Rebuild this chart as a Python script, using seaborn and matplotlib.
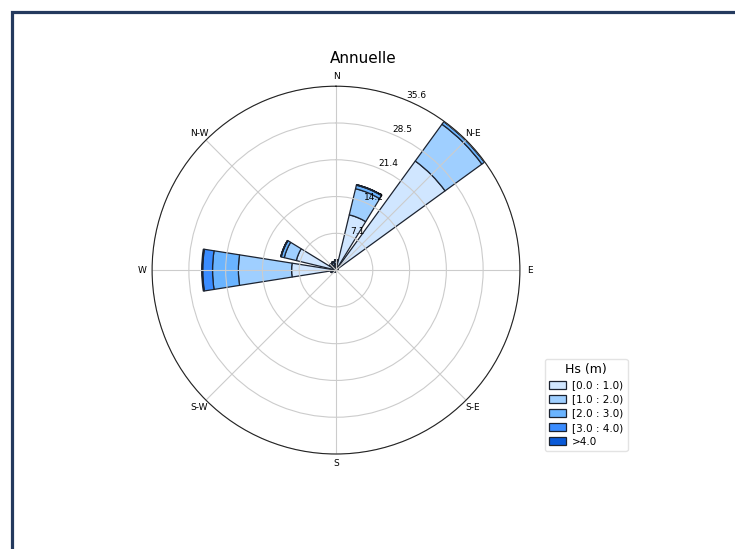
import matplotlib
matplotlib.use('Agg')
import matplotlib.pyplot as plt
import matplotlib.patches as mpatches
import numpy as np
import seaborn as sns

sns.set_theme(style='white')
plt.rcParams['font.family'] = ['DejaVu Sans']
plt.rcParams['text.color'] = 'black'
plt.rcParams['xtick.color'] = 'black'
plt.rcParams['ytick.color'] = 'black'

# 16 sectors, clockwise from N (degrees)
directions = ['N', 'NNE', 'NE', 'ENE', 'E', 'ESE', 'SE', 'SSE',
              'S', 'SSW', 'SW', 'WSW', 'W', 'WNW', 'NW', 'NNW']
angles_deg = [0, 22.5, 45, 67.5, 90, 112.5, 135, 157.5,
              180, 202.5, 225, 247.5, 270, 292.5, 315, 337.5]

hs_labels = ['[0.0 : 1.0)', '[1.0 : 2.0)', '[2.0 : 3.0)', '[3.0 : 4.0)', '>4.0']
hs_colors = ['#d0e6ff', '#9fcfff', '#6ab4ff', '#3a8cff', '#0a5ad8']

# frequency (%) per sector, one list per Hs class
hs_0_1 = [1.2, 11.0, 26.1, 0.3, 0.1, 0.0, 0.0, 0.0, 0.1, 0.3, 0.3, 0.6, 8.6, 7.9, 0.8, 1.0]
hs_1_2 = [0.6, 5.2, 8.8, 0.1, 0.0, 0.0, 0.0, 0.0, 0.0, 0.1, 0.2, 0.3, 10.3, 2.4, 0.5, 0.5]
hs_2_3 = [0.2, 0.7, 0.6, 0.0, 0.0, 0.0, 0.0, 0.0, 0.0, 0.0, 0.1, 0.1, 5.0, 0.6, 0.2, 0.2]
hs_3_4 = [0.0, 0.1, 0.1, 0.0, 0.0, 0.0, 0.0, 0.0, 0.0, 0.0, 0.0, 0.0, 1.9, 0.1, 0.05, 0.0]
hs_4_up = [0.0, 0.0, 0.0, 0.0, 0.0, 0.0, 0.0, 0.0, 0.0, 0.0, 0.0, 0.0, 0.2, 0.0, 0.0, 0.0]

series = [hs_0_1, hs_1_2, hs_2_3, hs_3_4, hs_4_up]
palette = sns.color_palette(hs_colors)

fig = plt.figure(figsize=(7.35, 5.49), dpi=100)
ax = fig.add_axes([0.2068, 0.173, 0.5007, 0.670], projection='polar')
ax.set_theta_zero_location('N')
ax.set_theta_direction(-1)
ax.set_axisbelow(False)

theta = np.deg2rad(angles_deg)
width = 0.8 * 2 * np.pi / len(directions)
bottom = np.zeros(len(directions))
for vals, col, lab in zip(series, palette, hs_labels):
    vals = np.array(vals)
    ax.bar(theta, vals, width=width, bottom=bottom, color=col,
           edgecolor='#1c2330', linewidth=0.9, label=lab)
    bottom = bottom + vals

rmax = bottom.max()
ax.set_ylim(0, rmax)
radii = np.linspace(0, rmax, 6)[1:]
ax.set_yticks(radii)
ax.set_yticklabels([f'{r:.1f}' for r in radii], fontsize=6.5)
ax.set_rlabel_position(22.5)

ax.set_xticks(np.deg2rad(np.arange(0, 360, 45)))
ax.set_xticklabels(['N', 'N-E', 'E', 'S-E', 'S', 'S-W', 'W', 'N-W'], fontsize=6.5)
ax.tick_params(axis='x', pad=-6)
ax.grid(True, color='#cccccc', linewidth=0.8)
ax.spines['polar'].set_color('#222222')
ax.spines['polar'].set_linewidth(0.8)
ax.spines['polar'].set_zorder(6)

fig.text(0.494, 0.894, 'Annuelle', ha='center', va='center', fontsize=11)

handles = [mpatches.Patch(facecolor=c, edgecolor='#1c2330', linewidth=0.9) for c in palette]
leg = fig.legend(handles, hs_labels, title='Hs (m)', loc='lower left',
                 bbox_to_anchor=(0.7415, 0.1785), borderaxespad=0,
                 fontsize=7.5, title_fontsize=9, frameon=True,
                 handlelength=1.6, handleheight=0.8, labelspacing=0.4,
                 handletextpad=0.6, borderpad=0.4)
leg.get_frame().set_edgecolor('#dddddd')

# dark frame on left and top edges
fig.add_artist(mpatches.Rectangle((11.5 / 735, -0.5), 2.0, 0.5 + 1 - 11.5 / 549,
                                  transform=fig.transFigure, fill=False,
                                  edgecolor='#243a5e', linewidth=2.3))

fig.savefig('out.png', dpi=100)
